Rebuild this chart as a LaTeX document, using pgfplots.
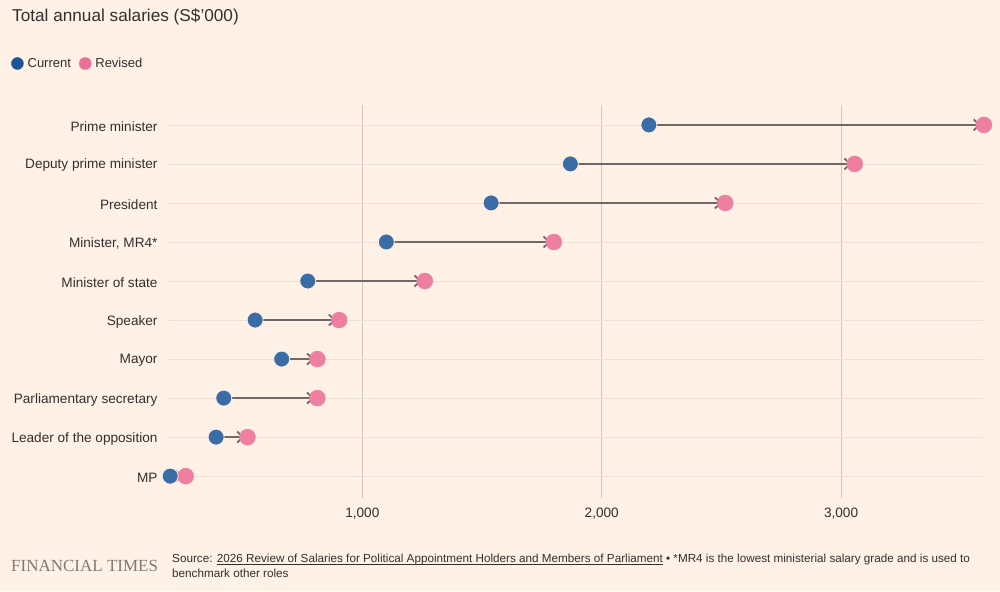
\documentclass[border=0pt]{standalone}
\usepackage{pgfplots}
\pgfplotsset{compat=1.18}
\usepackage{pgfplotstable}
\usepackage{fontspec}
\setmainfont{Liberation Sans}
\newfontfamily\ftserif{Liberation Serif}
\usetikzlibrary{arrows.meta}
\definecolor{bg}{RGB}{255,241,229}
\definecolor{hgrid}{RGB}{236,225,214}
\definecolor{vgrid}{RGB}{208,198,190}
\definecolor{curblue}{RGB}{58,108,165}
\definecolor{legblue}{RGB}{30,85,151}
\definecolor{revpink}{RGB}{238,127,161}
\definecolor{legpink}{RGB}{236,112,150}
\definecolor{arrowgray}{RGB}{112,104,104}
\definecolor{txt}{RGB}{51,48,46}
\definecolor{foot}{RGB}{128,122,117}
\newlength{\ulw}
\newcommand{\ul}[1]{\settowidth{\ulw}{#1}\leavevmode\rlap{\rule[-1.6pt]{\ulw}{0.6pt}}#1}

\pgfplotstableread{
y cur rev
9 2197 3597
8 1869 3057
7 1538 2516
6 1100 1800
5 772 1261
4 552 903
3 663 812
2 421 812
1 389 520
0 197 262
}\data

\begin{document}
\begin{tikzpicture}[x=1pt,y=1pt]
\fill[bg] (0,0) rectangle (1000,591);
\useasboundingbox (0,0) rectangle (1000,591);
\node[anchor=base west, inner sep=0pt, text=txt, font=\fontsize{17.2}{20}\selectfont] at (12,569) {Total annual salaries (S\$'000)};
\begin{axis}[
  at={(168pt,93pt)}, anchor=south west,
  scale only axis, width=815pt, height=393pt,
  xmin=188, xmax=3593, ymin=-0.56, ymax=9.51,
  clip=false,
  axis line style={draw=none},
  major tick length=0pt,
  xtick={1000,2000,3000},
  xticklabels={{1,000},{2,000},{3,000}},
  ytick={0,...,9},
  yticklabels={MP, Leader of the opposition, Parliamentary secretary, Mayor, Speaker, Minister of state, {Minister, MR4*}, President, Deputy prime minister, Prime minister},
  xmajorgrids, ymajorgrids,
  x grid style={vgrid, line width=0.8pt},
  y grid style={hgrid, line width=0.8pt},
  tick label style={text=txt, font=\fontsize{13.6}{15}\selectfont},
  yticklabel style={anchor=east, xshift=-7pt, yshift=-1.5pt},
  xticklabel style={anchor=north, yshift=-6pt},
  legend style={at={(axis description cs:-0.1926,1.1056)}, anchor=west, draw=none, fill=none, inner sep=0pt,
    legend columns=2, font=\fontsize{13}{15}\selectfont, text=txt,
    nodes={inner sep=0pt},
    /tikz/every odd column/.append style={column sep=4pt},
    /tikz/every even column/.append style={column sep=8pt}},
  legend cell align=left,
]
\addlegendimage{legend image code/.code={\fill[legblue] (0pt,0pt) circle (6pt);}}
\addlegendentry{Current}
\addlegendimage{legend image code/.code={\fill[legpink] (0pt,0pt) circle (6pt);}}
\addlegendentry{Revised}
\addplot[forget plot, only marks, mark=*, mark size=8pt, mark options={fill=revpink, draw=revpink}] table[x=rev, y=y] {\data};
\addplot[forget plot, draw=arrowgray, line width=2.2pt,
  quiver={u=\thisrow{rev}-\thisrow{cur}, v=0,
    every arrow/.append style={line width=2.2pt, -{Straight Barb[length=6pt, width=11pt, line width=1.8pt]}, shorten >=3pt}}] table[x=cur, y=y] {\data};
\addplot[forget plot, only marks, mark=*, mark size=8pt, mark options={fill=curblue, draw=bg, line width=0.8pt}] table[x=cur, y=y] {\data};
\end{axis}
\node[anchor=base west, inner sep=0pt, text=foot, font=\ftserif\fontsize{17}{18}\selectfont] at (11,19.5) {FINANCIAL TIMES};
\node[anchor=base west, inner sep=0pt, text=txt, font=\fontsize{11.7}{13}\selectfont] at (172,28) {Source: \ul{2026 Review of Salaries for Political Appointment Holders and Members of Parliament} \textbullet{} *MR4 is the lowest ministerial salary grade and is used to};
\node[anchor=base west, inner sep=0pt, text=txt, font=\fontsize{11.7}{13}\selectfont] at (172,13) {benchmark other roles};
\end{tikzpicture}
\end{document}
